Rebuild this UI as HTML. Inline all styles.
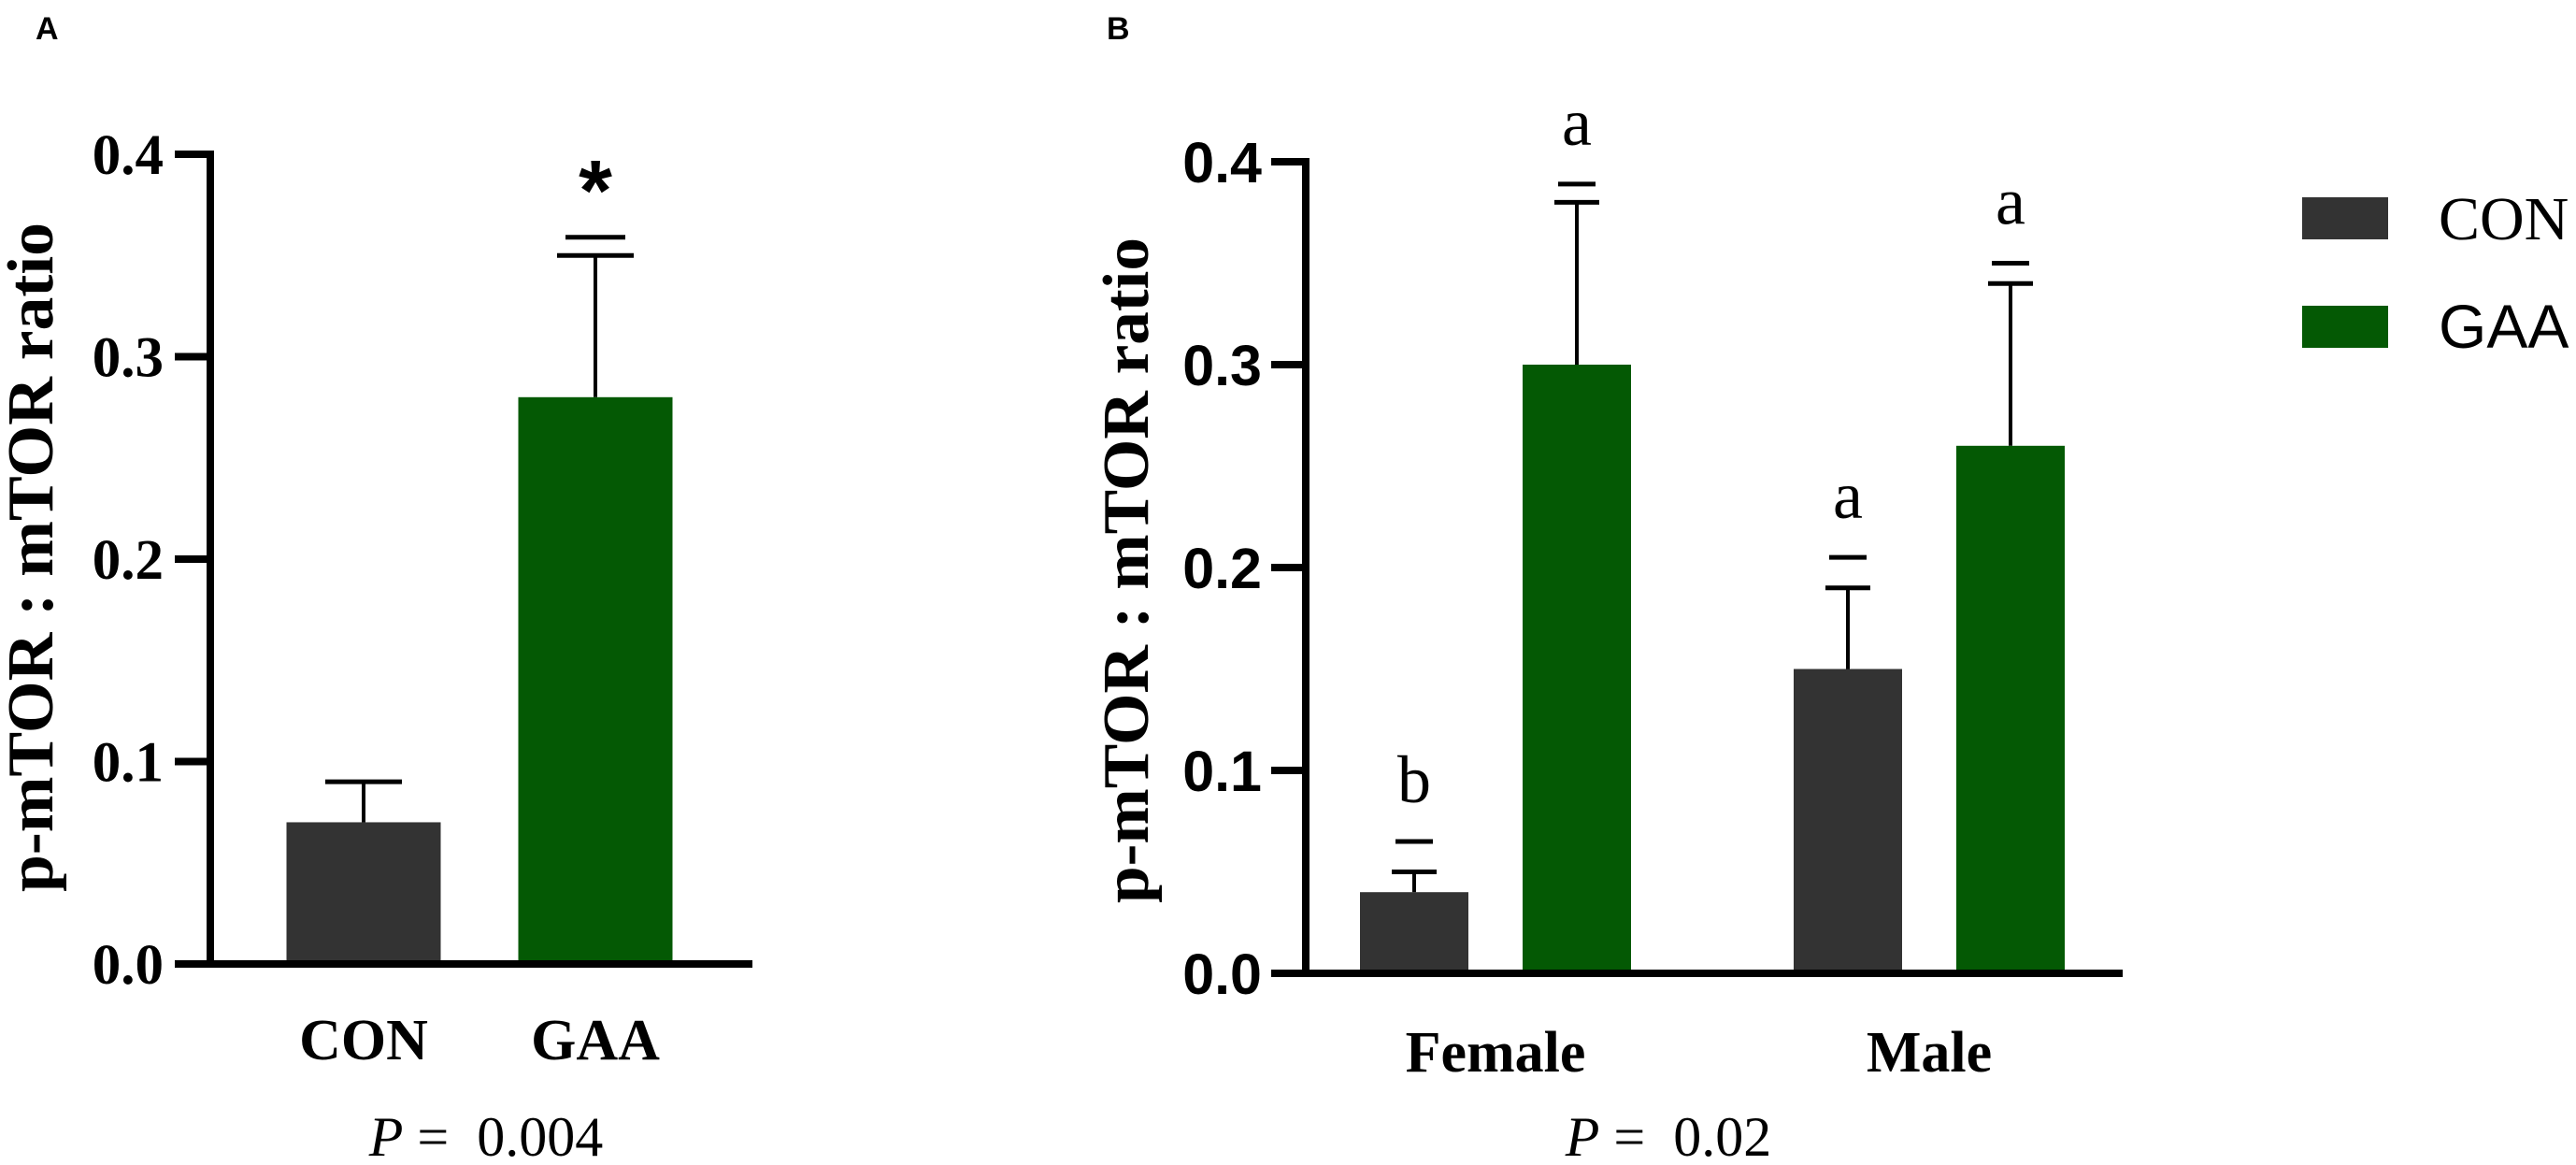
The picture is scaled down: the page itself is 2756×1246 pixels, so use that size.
<!DOCTYPE html>
<html><head><meta charset="utf-8"><style>
html,body{margin:0;padding:0;background:#fff;}
svg{display:block;}
</style></head><body>
<svg id="chart" width="2756" height="1246" viewBox="0 0 2756 1246" xmlns="http://www.w3.org/2000/svg">
<g id="panelA"></g>
<g id="panelB"></g>
<g id="legend"></g>
</svg>
<script>
// Panel A data
const catsA = ["CON", "GAA"];
const valsA = [0.07, 0.28];
const errA = [0.09, 0.35];
const sigLineA = [null, 0.359];
const marksA = ["", "*"];
// Panel B data
const groupsB = ["Female", "Male"];
const seriesNames = ["CON", "GAA"];
const conB = [0.04, 0.15];
const gaaB = [0.30, 0.26];
const conErrB = [0.05, 0.19];
const gaaErrB = [0.38, 0.34];
const conDashB = [0.065, 0.205];
const gaaDashB = [0.389, 0.35];
const conLetters = ["b", "a"];
const gaaLetters = ["a", "a"];
const ticks = [0, 0.1, 0.2, 0.3, 0.4];
const tickLabels = ["0.0", "0.1", "0.2", "0.3", "0.4"];

const NS = "http://www.w3.org/2000/svg";
const COLORS = ["#333333", "#045904"];
function mk(parent, tag, attrs, text) {
  const e = document.createElementNS(NS, tag);
  for (const k in attrs) e.setAttribute(k, attrs[k]);
  if (text !== undefined) e.textContent = text;
  parent.appendChild(e);
  return e;
}
const SERIF = '"Liberation Serif", serif';
const SANS = '"Liberation Sans", sans-serif';

function drawErr(g, cx, yTop, yVal, capHalf, name) {
  const l = mk(g, "line", {x1: cx, x2: cx, y1: yVal, y2: yTop, stroke: "#000", "stroke-width": 4});
  
  
  const c = mk(g, "line", {x1: cx - capHalf, x2: cx + capHalf, y1: yTop, y2: yTop, stroke: "#000", "stroke-width": 5});
  
  
}
function drawDash(g, cx, y, half, name) {
  const d = mk(g, "line", {x1: cx - half, x2: cx + half, y1: y, y2: y, stroke: "#000", "stroke-width": 5});
  
  
}

// ---------- Panel A ----------
(function(){
  const g = document.getElementById("panelA");
  const x0 = 225, yZero = 1031, yTopPix = 165;
  const y = v => yZero - (v / 0.4) * (yZero - yTopPix);
  const centers = [389, 637], bw = 165;
  const lab = mk(g, "text", {x: 38, y: 42, "font-family": SANS, "font-weight": "bold", "font-size": 34}, "A");
  
  
  catsA.forEach((c, i) => {
    const r = mk(g, "rect", {x: centers[i] - bw/2, y: y(valsA[i]), width: bw, height: yZero - y(valsA[i]), fill: COLORS[i]});
    
    
    drawErr(g, centers[i], y(errA[i]), y(valsA[i]), 41, 'bar-' + c.toLowerCase());
    if (sigLineA[i] !== null) drawDash(g, centers[i], y(sigLineA[i]), 32, 'bar-' + c.toLowerCase());
    if (marksA[i]) {
      const m = mk(g, "text", {x: centers[i], y: y(errA[i]) - 38, "text-anchor": "middle", "font-family": SANS, "font-weight": "bold", "font-size": 92}, marksA[i]);
      
      
    }
    const t = mk(g, "text", {x: centers[i], y: 1133, "text-anchor": "middle", "font-family": SERIF, "font-weight": "bold", "font-size": 62}, c);
    
    
  });
  const ax = mk(g, "path", {d: `M${x0} ${yTopPix - 4} V${yZero} M${x0 - 4} ${yZero} H805`, stroke: "#000", "stroke-width": 8, fill: "none"});
  
  
  ticks.forEach((v, i) => {
    const tk = mk(g, "line", {x1: 187, x2: x0, y1: y(v), y2: y(v), stroke: "#000", "stroke-width": 8});
    
    
    const tl = mk(g, "text", {x: 175, y: y(v) + 21, "text-anchor": "end", "font-family": SERIF, "font-weight": "bold", "font-size": 61}, tickLabels[i]);
    
    
  });
  const yt = mk(g, "text", {x: 0, y: 0, transform: "translate(56,596) rotate(-90)", "text-anchor": "middle", "font-family": SERIF, "font-weight": "bold", "font-size": 70, textLength: 716, lengthAdjust: "spacingAndGlyphs"}, "p-mTOR : mTOR ratio");
  
  
  const p = mk(g, "text", {x: 520, y: 1236, "text-anchor": "middle", "font-family": SERIF, "font-size": 60});
  
  
  mk(p, "tspan", {"font-style": "italic"}, "P");
  mk(p, "tspan", {}, " =\u00a0\u00a00.004");
})();

// ---------- Panel B ----------
(function(){
  const g = document.getElementById("panelB");
  const x0 = 1397, yZero = 1041, yTopPix = 173;
  const y = v => yZero - (v / 0.4) * (yZero - yTopPix);
  const groupCenters = [1600, 2064], off = 87, bw = 116;
  const lab = mk(g, "text", {x: 1184, y: 42, "font-family": SANS, "font-weight": "bold", "font-size": 34}, "B");
  
  
  const series = [
    {vals: conB, err: conErrB, dash: conDashB, letters: conLetters, dx: -off, name: "con"},
    {vals: gaaB, err: gaaErrB, dash: gaaDashB, letters: gaaLetters, dx: off, name: "gaa"}
  ];
  groupsB.forEach((grp, gi) => {
    series.forEach((s, si) => {
      const cx = groupCenters[gi] + s.dx;
      const nm = 'bar-' + grp.toLowerCase() + '-' + s.name;
      const r = mk(g, "rect", {x: cx - bw/2, y: y(s.vals[gi]), width: bw, height: yZero - y(s.vals[gi]), fill: COLORS[si]});
      
      
      drawErr(g, cx, y(s.err[gi]), y(s.vals[gi]), 24, nm);
      drawDash(g, cx, y(s.dash[gi]), 20, nm);
      const lt = mk(g, "text", {x: cx, y: y(s.dash[gi]) - 42, "text-anchor": "middle", "font-family": SERIF, "font-size": 72}, s.letters[gi]);
      
      
    });
    const t = mk(g, "text", {x: groupCenters[gi], y: 1146, "text-anchor": "middle", "font-family": SERIF, "font-weight": "bold", "font-size": 62}, grp);
    
    
  });
  const ax = mk(g, "path", {d: `M${x0} ${yTopPix - 4} V${yZero} M${x0 - 4} ${yZero} H2271`, stroke: "#000", "stroke-width": 8, fill: "none"});
  
  
  ticks.forEach((v, i) => {
    const tk = mk(g, "line", {x1: 1360, x2: x0, y1: y(v), y2: y(v), stroke: "#000", "stroke-width": 8});
    
    
    const tl = mk(g, "text", {x: 1350, y: y(v) + 22, "text-anchor": "end", "font-family": SANS, "font-weight": "bold", "font-size": 61}, tickLabels[i]);
    
    
  });
  const yt = mk(g, "text", {x: 0, y: 0, transform: "translate(1228,610) rotate(-90)", "text-anchor": "middle", "font-family": SERIF, "font-weight": "bold", "font-size": 70, textLength: 712, lengthAdjust: "spacingAndGlyphs"}, "p-mTOR : mTOR ratio");
  
  
  const p = mk(g, "text", {x: 1785, y: 1236, "text-anchor": "middle", "font-family": SERIF, "font-size": 60});
  
  
  mk(p, "tspan", {"font-style": "italic"}, "P");
  mk(p, "tspan", {}, " =\u00a0\u00a00.02");
})();

// ---------- Legend ----------
(function(){
  const g = document.getElementById("legend");
  const rows = [{y: 211, font: SERIF}, {y: 327, font: SANS}];
  seriesNames.forEach((n, i) => {
    const r = mk(g, "rect", {x: 2463, y: rows[i].y, width: 92, height: 45, fill: COLORS[i]});
    
    
    const t = mk(g, "text", {x: 2609, y: rows[i].y + 45, "font-family": rows[i].font, "font-size": 66}, n);
    
    
  });
})();
</script>
</body></html>
